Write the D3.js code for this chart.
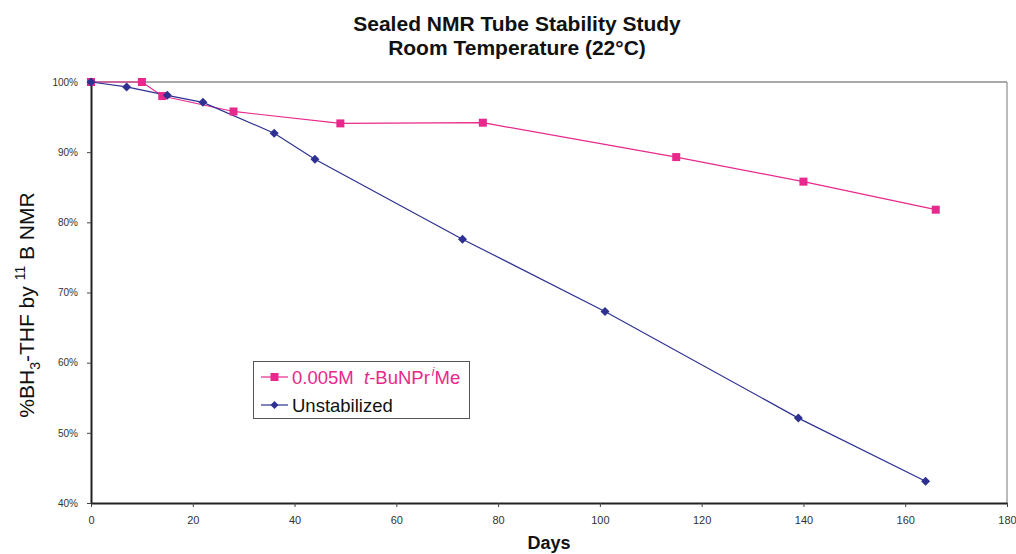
<!DOCTYPE html>
<html><head><meta charset="utf-8">
<script src="https://cdn.jsdelivr.net/npm/d3@7"></script>
<style>body{margin:0;background:#fff;font-family:"Liberation Sans",Arial,sans-serif;}</style>
</head><body><svg id="c" width="1016" height="554"></svg>
<script>
const stabDays = [0, 10, 14, 28, 49, 77, 115, 140, 166];
const stabVals = [100, 100, 98.0, 95.8, 94.1, 94.2, 89.3, 85.8, 81.8];
const unstDays = [0, 7, 15, 22, 36, 44, 73, 101, 139, 164];
const unstVals = [100, 99.3, 98.1, 97.1, 92.7, 89.0, 77.6, 67.3, 52.1, 43.1];
const xTicks = [0, 20, 40, 60, 80, 100, 120, 140, 160, 180];
const yTicks = [40, 50, 60, 70, 80, 90, 100];
const pink = "#e8288c", blue = "#2e3192";

const svg = d3.select("#c");
const m = {l: 91, r: 1007, t: 82, b: 503};
const x = d3.scaleLinear().domain([0, 180]).range([m.l, m.r]);
const y = d3.scaleLinear().domain([40, 100]).range([m.b, m.t]);

// plot border (gray top/right)
svg.append("line").attr("x1", m.l).attr("x2", m.r).attr("y1", m.t).attr("y2", m.t).attr("stroke", "#555").attr("stroke-width", 1);
svg.append("line").attr("x1", m.r).attr("x2", m.r).attr("y1", m.t).attr("y2", m.b).attr("stroke", "#777").attr("stroke-width", 1);

// axes
const xa = svg.append("g").attr("transform", `translate(0,${m.b})`)
  .call(d3.axisBottom(x).tickValues(xTicks).tickSize(4).tickSizeOuter(0));
xa.select(".domain").attr("stroke", "#222").attr("stroke-width", 2);
xa.selectAll(".tick line").attr("stroke", "#444");
xa.selectAll("text").attr("font-size", 11).attr("fill", "#333").attr("dy", "1.3em")
  .attr("font-family", "Liberation Sans, Arial, sans-serif");

const ya = svg.append("g").attr("transform", `translate(${m.l},0)`)
  .call(d3.axisLeft(y).tickValues(yTicks).tickSize(4).tickSizeOuter(0).tickFormat(d => d + "%"));
ya.select(".domain").attr("stroke", "#222").attr("stroke-width", 2);
ya.selectAll(".tick line").attr("stroke", "#444");
ya.selectAll("text").attr("font-size", 10).attr("fill", "#333").attr("dx", "-0.6em")
  .attr("font-family", "Liberation Sans, Arial, sans-serif");

const line = d3.line().x(d => x(d[0])).y(d => y(d[1]));
const stab = stabDays.map((d, i) => [d, stabVals[i]]);
const unst = unstDays.map((d, i) => [d, unstVals[i]]);

svg.append("path").datum(stab).attr("d", line).attr("fill", "none").attr("stroke", pink).attr("stroke-width", 1.2);
svg.append("path").datum(unst).attr("d", line).attr("fill", "none").attr("stroke", blue).attr("stroke-width", 1.2);

const sq = 8;
svg.selectAll(".sq").data(stab).enter().append("rect")
  .attr("x", d => x(d[0]) - sq / 2).attr("y", d => y(d[1]) - sq / 2)
  .attr("width", sq).attr("height", sq).attr("fill", pink);
const diaPath = (w, h) => `M0,${-h}L${w},0L0,${h}L${-w},0Z`;
svg.selectAll(".dm").data(unst).enter().append("path")
  .attr("d", diaPath(4.5, 4.5)).attr("transform", d => `translate(${x(d[0])},${y(d[1])})`).attr("fill", blue);

// titles
svg.append("text").attr("x", 517).attr("y", 31).attr("text-anchor", "middle")
  .attr("font-size", 21).attr("font-weight", "bold").attr("fill", "#111").text("Sealed NMR Tube Stability Study");
svg.append("text").attr("x", 517).attr("y", 55).attr("text-anchor", "middle")
  .attr("font-size", 21).attr("font-weight", "bold").attr("fill", "#111").text("Room Temperature (22°C)");
svg.append("text").attr("x", 549).attr("y", 549).attr("text-anchor", "middle")
  .attr("font-size", 18).attr("font-weight", "bold").attr("fill", "#111").text("Days");

// y label
const yl = svg.append("text").attr("transform", "translate(34,305) rotate(-90)")
  .attr("text-anchor", "middle").attr("font-size", 21).attr("fill", "#111");
yl.append("tspan").text("%BH");
yl.append("tspan").attr("font-size", 14).attr("dy", 6).text("3");
yl.append("tspan").attr("dy", -6).text("-THF by ");
yl.append("tspan").attr("font-size", 14).attr("dy", -9).text("11");
yl.append("tspan").attr("dy", 9).text(" B NMR");

// legend
const lg = svg.append("g");
lg.append("rect").attr("x", 253.5).attr("y", 361.5).attr("width", 216).attr("height", 57)
  .attr("fill", "#fff").attr("stroke", "#555").attr("stroke-width", 1);
lg.append("line").attr("x1", 261).attr("x2", 288).attr("y1", 377).attr("y2", 377).attr("stroke", pink).attr("stroke-width", 1.2);
lg.append("rect").attr("x", 270.5).attr("y", 373).attr("width", 8).attr("height", 8).attr("fill", pink);
const t1 = lg.append("text").attr("x", 292).attr("y", 384).attr("font-size", 18.5).attr("fill", pink);
t1.append("tspan").text("0.005M\u00a0 ");
t1.append("tspan").attr("font-style", "italic").text("t");
t1.append("tspan").text("-BuNPr");
t1.append("tspan").attr("font-style", "italic").attr("font-size", 12).attr("dx", 2).attr("dy", -8).text("i");
t1.append("tspan").attr("dy", 8).text("Me");
lg.append("line").attr("x1", 261).attr("x2", 288).attr("y1", 405).attr("y2", 405).attr("stroke", blue).attr("stroke-width", 1.2);
lg.append("path").attr("d", diaPath(4, 4)).attr("transform", "translate(274.5,405)").attr("fill", blue);
lg.append("text").attr("x", 292).attr("y", 412).attr("font-size", 18.5).attr("fill", "#111").text("Unstabilized");
</script></body></html>
